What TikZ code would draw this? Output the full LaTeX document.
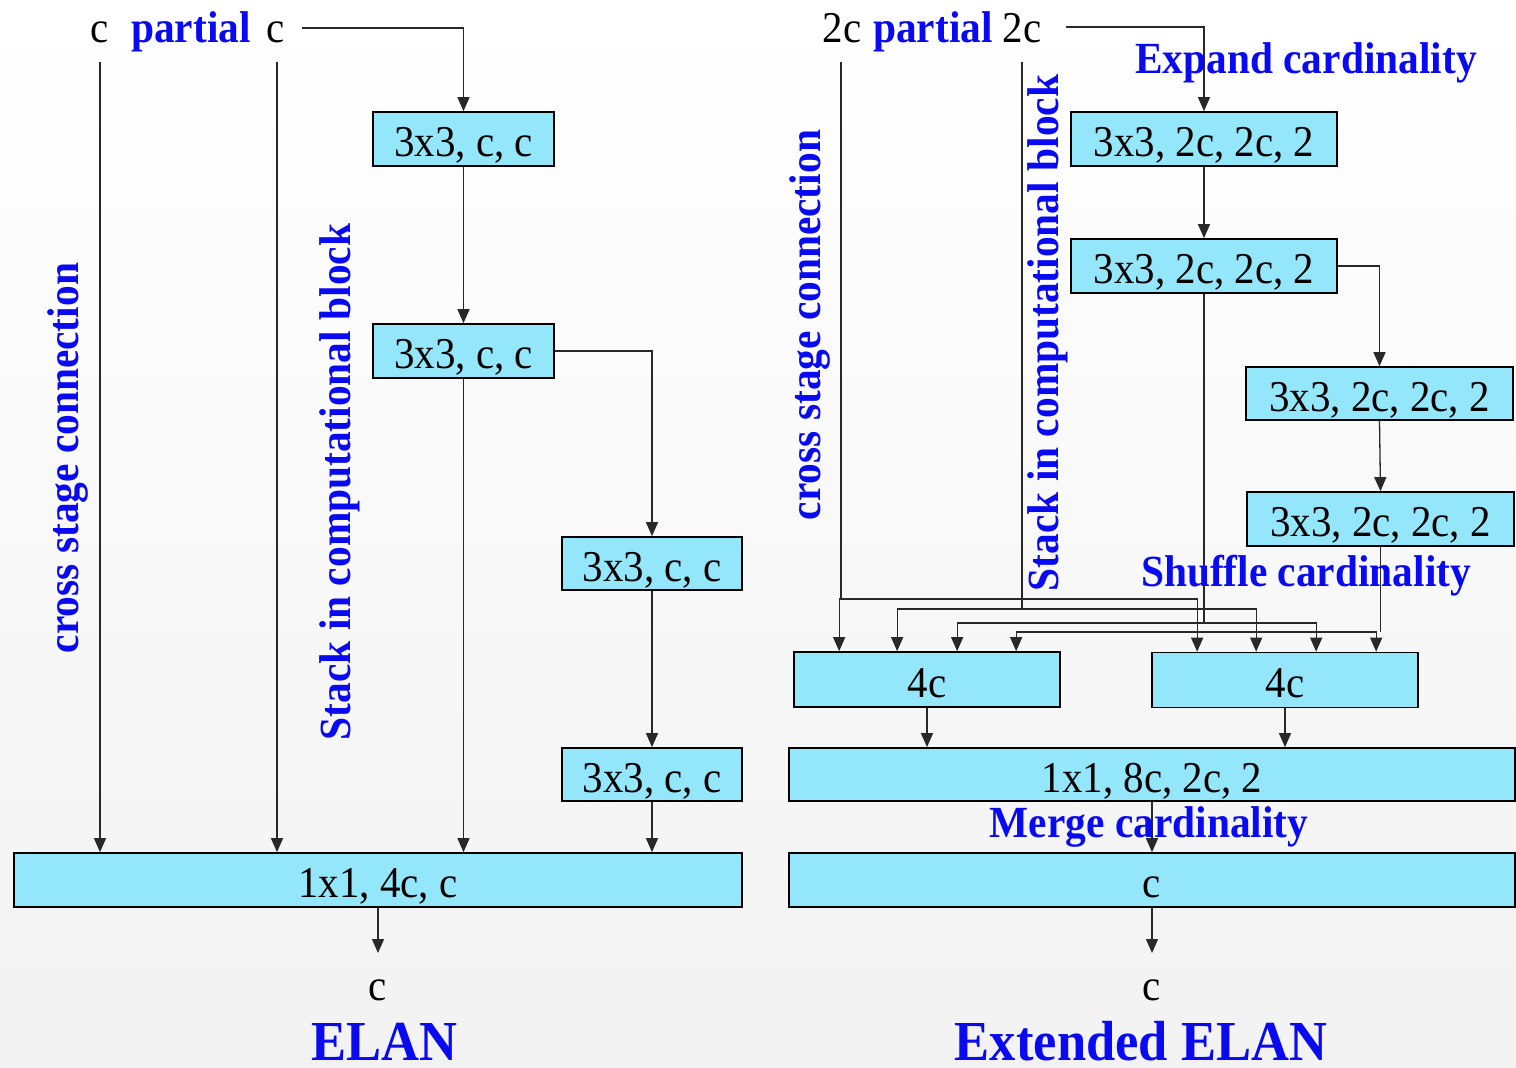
\documentclass[tikz,border=0pt]{standalone}
\usepackage{fontspec}
\setmainfont[FakeStretch=0.93]{Liberation Serif}
\usetikzlibrary{arrows.meta,calc}
\definecolor{boxcyan}{RGB}{148,230,250}
\definecolor{lblue}{RGB}{10,10,240}
\definecolor{wire}{RGB}{40,40,40}
\begin{document}
\begin{tikzpicture}[x=1pt,y=-1pt,
  box/.style={draw=black, line width=1.7pt, fill=boxcyan, inner sep=0pt, text height=35pt, text depth=0pt, font=\fontsize{44}{48}\selectfont},
  wirest/.style={draw=wire, line width=1.3pt},
  arr/.style={wirest, -{Triangle[length=14pt,width=12pt]}},
  lab/.style={font=\fontsize{44}{48}\selectfont, inner sep=0pt},
  blab/.style={font=\fontsize{44.5}{48}\selectfont\bfseries, text=lblue, inner sep=0pt},
  ttl/.style={font=\fontsize{56.5}{60}\selectfont\bfseries, text=lblue, inner sep=0pt},
]
\useasboundingbox (0,0) rectangle (1516,1068);
\shade[top color=white, bottom color=black!5] (0,0) rectangle (1516,1068);

% ---------------- ELAN ----------------
\node[box, minimum width=181pt, minimum height=54pt] (a1) at (463.5,139) {3x3, c, c};
\node[box, minimum width=181pt, minimum height=54pt] (a2) at (463.5,351) {3x3, c, c};
\node[box, minimum width=180pt, minimum height=53pt] (a3) at (652,563.5) {3x3, c, c};
\node[box, minimum width=180pt, minimum height=53pt] (a4) at (652,774.5) {3x3, c, c};
\node[box, minimum width=728pt, minimum height=54pt] (big) at (378,880) {1x1, 4c, c};

\node[lab, anchor=base] (lc1) at (100,42) {c};
\node[blab, anchor=base] (lp) at (191,42) {partial};
\node[lab, anchor=base] (lc2) at (276,42) {c};

\coordinate (ls) at (302,28);
\coordinate (lv1) at (100,62);
\coordinate (lv2) at (277,62);
\coordinate (lend) at (378,953);

\draw[arr] (ls) -| (a1.north);
\draw[arr] (lv1) -- (lv1 |- big.north);
\draw[arr] (lv2) -- (lv2 |- big.north);
\draw[arr] (a1.south) -- (a2.north);
\draw[arr] (a2.south) -- (a2.south |- big.north);
\draw[arr] (a2.east) -| (a3.north);
\draw[arr] (a3.south) -- (a4.north);
\draw[arr] (a4.south) -- (a4.south |- big.north);
\draw[arr] (big.south) -- (lend);

\node[lab, anchor=base] (lout) at (378,1000) {c};
\node[blab, rotate=90] (lcs) at (68,458) {cross stage connection};
\node[blab, rotate=90] (lst) at (340,482) {Stack in computational block};
\node[ttl, anchor=base] (t1) at (384,1060) {ELAN};

% ---------------- Extended ELAN ----------------
\node[box, minimum width=266pt, minimum height=54pt] (e1) at (1204,139) {3x3, 2c, 2c, 2};
\node[box, minimum width=266pt, minimum height=54pt] (e2) at (1204,266) {3x3, 2c, 2c, 2};
\node[box, minimum width=267pt, minimum height=53pt] (e3) at (1379.5,393.5) {3x3, 2c, 2c, 2};
\node[box, minimum width=267pt, minimum height=54pt] (e4) at (1380.5,519) {3x3, 2c, 2c, 2};
\node[box, minimum width=266pt, minimum height=55pt] (cL) at (927,679.5) {4c};
\node[box, minimum width=266pt, minimum height=55pt] (cR) at (1285,680) {4c};
\node[box, minimum width=726pt, minimum height=53pt] (M) at (1152,774.5) {1x1, 8c, 2c, 2};
\node[box, minimum width=726pt, minimum height=54pt] (C) at (1152,880) {c};

\node[lab, anchor=base] (rc1) at (842,42) {2c};
\node[blab, anchor=base] (rp) at (933,42) {partial};
\node[lab, anchor=base] (rc2) at (1022,42) {2c};

\coordinate (rs) at (1066,27);
\coordinate (rv1) at (841,62);
\coordinate (rv2) at (1022,62);
\coordinate (rend) at (1152,953);
\coordinate (busA) at (0,599);
\coordinate (busB) at (0,609);
\coordinate (busC) at (0,623);
\coordinate (busD) at (0,632);
\coordinate (L1) at ($(cL.north west)+(46,0)$);
\coordinate (L2) at ($(cL.north west)+(104,0)$);
\coordinate (L3) at ($(cL.north west)+(164,0)$);
\coordinate (L4) at ($(cL.north west)+(223,0)$);
\coordinate (R1) at ($(cR.north west)+(46,0)$);
\coordinate (R2) at ($(cR.north west)+(105,0)$);
\coordinate (R3) at ($(cR.north west)+(165,0)$);
\coordinate (R4) at ($(cR.north west)+(225,0)$);

\draw[arr] (rs) -| (e1.north);
\draw[arr] (e1.south) -- (e2.north);
\draw[arr] (e2.east) -| (e3.north);
\draw[arr] (e3.south) -- (e4.north);

\draw[wirest] (rv1) -- (rv1 |- busA);
\draw[arr] (L1 |- busA) -- (L1);
\draw[arr] (L1 |- busA) -| (R1);
\draw[wirest] (rv2) -- (rv2 |- busB);
\draw[arr] (L2 |- busB) -- (L2);
\draw[arr] (L2 |- busB) -| (R2);
\draw[wirest] (e2.south) -- (e2.south |- busC);
\draw[arr] (L3 |- busC) -- (L3);
\draw[arr] (L3 |- busC) -| (R3);
\draw[wirest] (e4.south) -- (e4.south |- busD);
\draw[arr] (L4 |- busD) -- (L4);
\draw[arr] (L4 |- busD) -| (R4);

\draw[arr] (cL.south) -- (cL.south |- M.north);
\draw[arr] (cR.south) -- (cR.south |- M.north);
\draw[arr] (M.south) -- (C.north);
\draw[arr] (C.south) -- (rend);

\node[lab, anchor=base] (rout) at (1152,1000) {c};
\node[blab, rotate=90] (rcs) at (810,325) {cross stage connection};
\node[blab, rotate=90] (rst) at (1048,333) {Stack in computational block};
\node[blab, anchor=base] (exp) at (1306,73) {Expand cardinality};
\node[blab, anchor=base] (shu) at (1306,586) {Shuffle cardinality};
\node[blab, anchor=base] (mer) at (1149,837) {Merge cardinality};
\node[ttl, anchor=base] (t2) at (1141,1060) {Extended ELAN};
\end{tikzpicture}
\end{document}
